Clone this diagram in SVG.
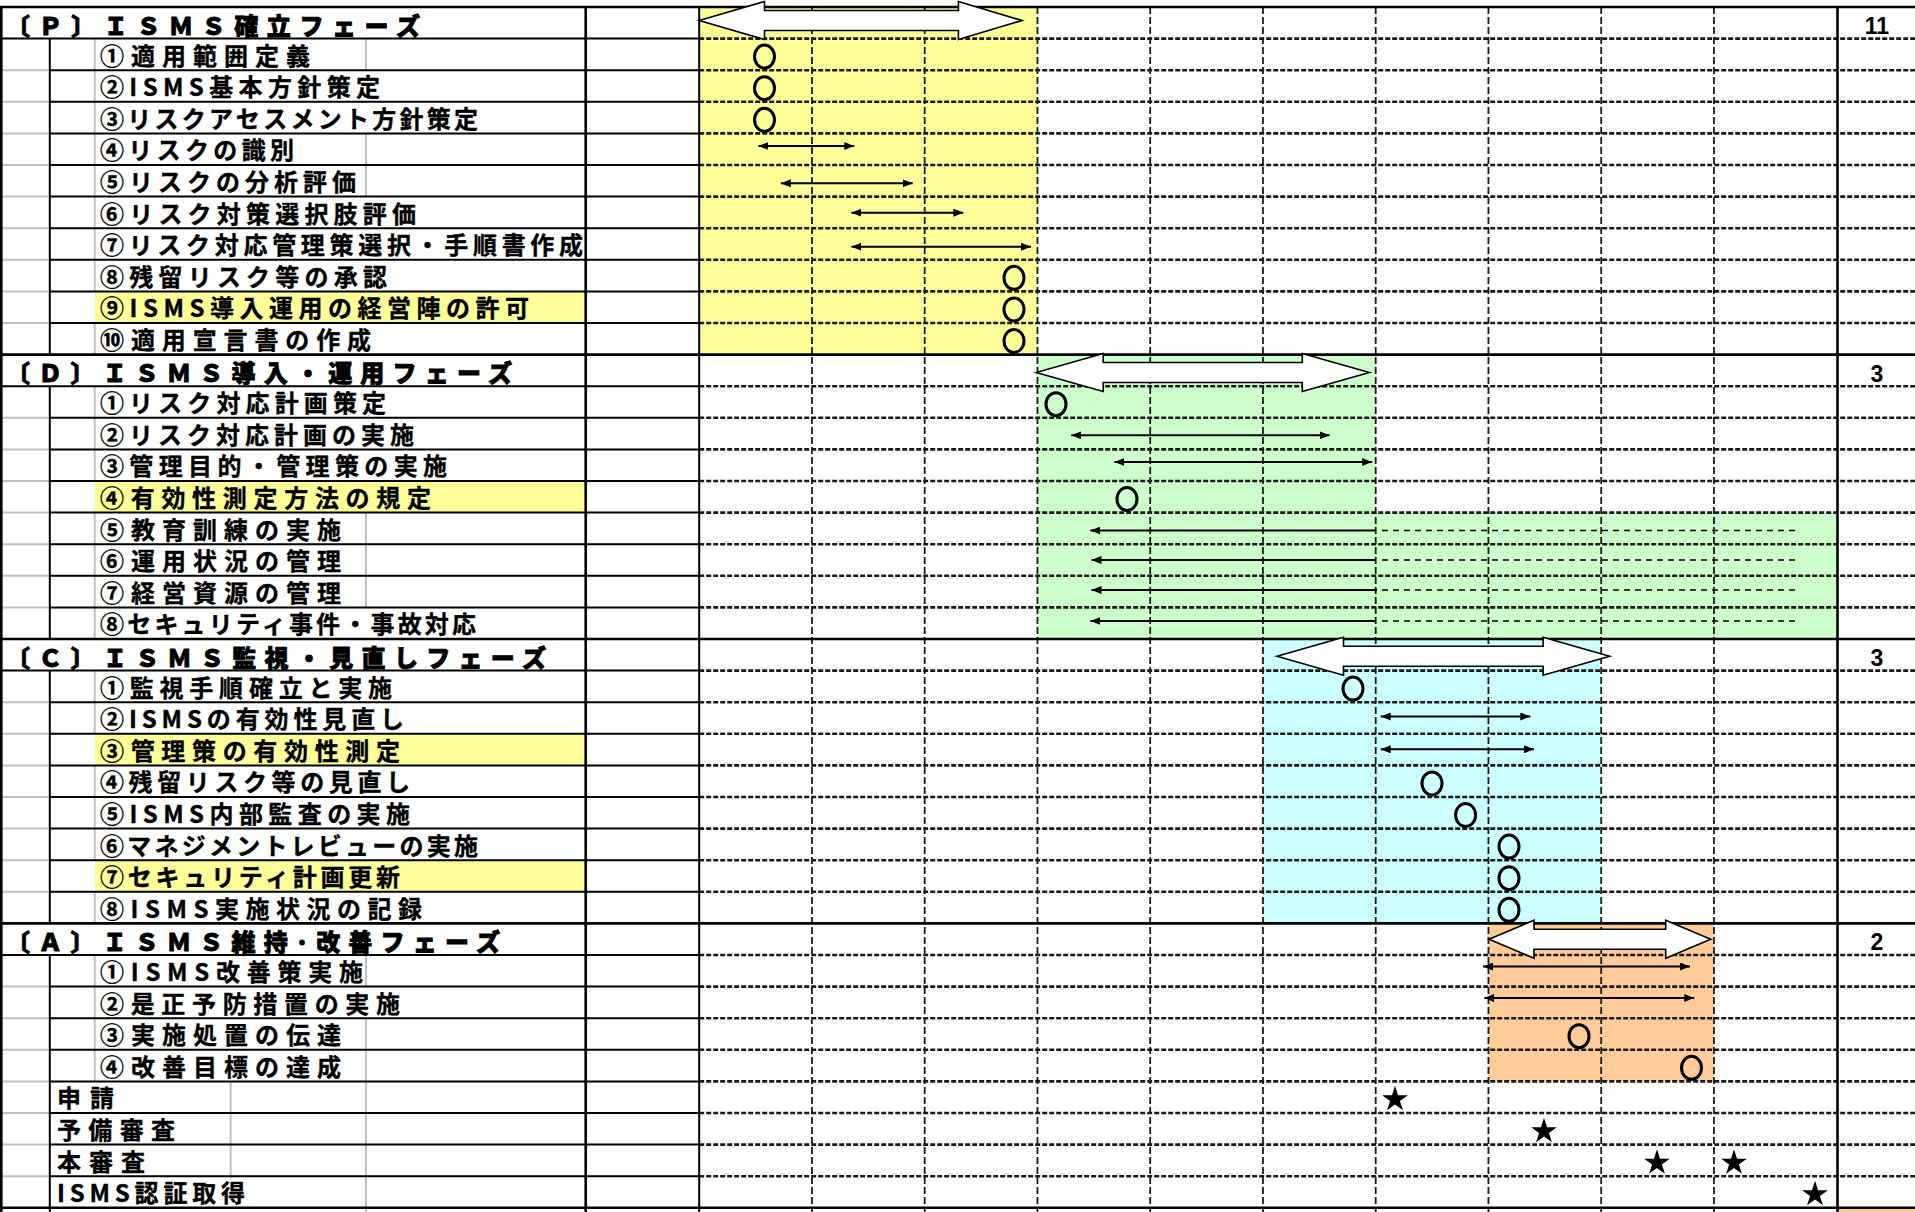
<svg xmlns="http://www.w3.org/2000/svg" width="1915" height="1212" viewBox="0 0 1915 1212">
<style>
.it{font-family:"Noto Sans CJK JP","Noto Sans",sans-serif;font-size:24px;font-weight:700;fill:#000;stroke:#000;stroke-width:0.35}
.hd{font-family:"Noto Sans CJK JP","Noto Sans",sans-serif;font-size:24px;font-weight:900;fill:#000;stroke:#000;stroke-width:0.8}
.num{font-family:"Liberation Sans",Arial,sans-serif;font-size:23px;font-weight:700;fill:#000;text-anchor:middle}
.sol{stroke:#000;stroke-width:2;fill:none}
.thk{stroke:#000;stroke-width:2.6;fill:none}
.gry{stroke:#c0c0c0;stroke-width:2;fill:none}
.dh{stroke:#1a1a1a;stroke-width:2.6;stroke-dasharray:5 2;fill:none}
.dv{stroke:#1a1a1a;stroke-width:1.8;stroke-dasharray:7 3;fill:none}
.big{fill:#fff;stroke:#000;stroke-width:1.6}
.ov{fill:none;stroke:#000;stroke-width:3}
.arr{stroke:#000;stroke-width:2;marker-start:url(#ah);marker-end:url(#ah)}
.arl{stroke:#000;stroke-width:2;marker-end:url(#ah)}
.dsh{stroke:#000;stroke-width:1.6;stroke-dasharray:6 5}
.st{fill:#000}
</style>
<defs>
<marker id="ah" viewBox="0 0 10 8" refX="10" refY="4" markerWidth="10" markerHeight="8" markerUnits="userSpaceOnUse" orient="auto-start-reverse"><path d="M0,0 L10,4 L0,8 z" fill="#000"/></marker>
<polygon id="star" points="0,-13.5 3.03,-4.17 12.84,-4.17 4.9,1.59 7.94,10.92 0,5.16 -7.94,10.92 -4.9,1.59 -12.84,-4.17 -3.03,-4.17"/>
</defs>
<rect x="0" y="0" width="1915" height="1212" fill="#fff"/>

<g id="backgrounds">
<rect x="699.2" y="7" width="338.25" height="347.6" fill="#ffff99"/>
<rect x="1037.45" y="354.6" width="338.25" height="284.4" fill="#ccffcc"/>
<rect x="1375.7" y="512.6" width="461.8" height="126.4" fill="#ccffcc"/>
<rect x="1262.95" y="639" width="338.25" height="284.4" fill="#ccffff"/>
<rect x="1488.45" y="923.4" width="225.5" height="158" fill="#ffcc99"/>
<rect x="1837.5" y="1208.5" width="78" height="4" fill="#ffcc99"/>
<rect x="94.7" y="291.4" width="491" height="31.6" fill="#ffff99"/>
<rect x="94.7" y="481" width="491" height="31.6" fill="#ffff99"/>
<rect x="94.7" y="733.8" width="491" height="31.6" fill="#ffff99"/>
<rect x="94.7" y="860.2" width="491" height="31.6" fill="#ffff99"/>
</g>

<g id="grid">
<path class="gry" d="M94.7,38.6V291.4 M94.7,323V354.6 M94.7,386.2V481 M94.7,512.6V639 M94.7,670.6V733.8 M94.7,765.4V860.2 M94.7,891.8V923.4 M94.7,955V1081.4 M230.6,1081.4V1176.2 M366,38.6V70.2 M366,133.4V196.6 M366,512.6V607.4 M366,955V986.6 M366,1018.2V1212"/>
<path class="gry" d="M0,70.2H49.8 M0,101.8H49.8 M0,133.4H49.8 M0,165H49.8 M0,196.6H49.8 M0,228.2H49.8 M0,259.8H49.8 M0,291.4H49.8 M0,323H49.8 M0,417.8H49.8 M0,449.4H49.8 M0,481H49.8 M0,512.6H49.8 M0,544.2H49.8 M0,575.8H49.8 M0,607.4H49.8 M0,702.2H49.8 M0,733.8H49.8 M0,765.4H49.8 M0,797H49.8 M0,828.6H49.8 M0,860.2H49.8 M0,891.8H49.8 M0,986.6H49.8 M0,1018.2H49.8 M0,1049.8H49.8 M0,1081.4H49.8 M0,1113H49.8 M0,1144.6H49.8 M0,1176.2H49.8"/>
<path class="sol" d="M0,38.6H699.2 M49.8,70.2H699.2 M49.8,101.8H699.2 M49.8,133.4H699.2 M49.8,165H699.2 M49.8,196.6H699.2 M49.8,228.2H699.2 M49.8,259.8H699.2 M49.8,291.4H699.2 M49.8,323H699.2 M0,386.2H699.2 M49.8,417.8H699.2 M49.8,449.4H699.2 M49.8,481H699.2 M49.8,512.6H699.2 M49.8,544.2H699.2 M49.8,575.8H699.2 M49.8,607.4H699.2 M0,670.6H699.2 M49.8,702.2H699.2 M49.8,733.8H699.2 M49.8,765.4H699.2 M49.8,797H699.2 M49.8,828.6H699.2 M49.8,860.2H699.2 M49.8,891.8H699.2 M0,955H699.2 M49.8,986.6H699.2 M49.8,1018.2H699.2 M49.8,1049.8H699.2 M49.8,1081.4H699.2 M49.8,1113H699.2 M49.8,1144.6H699.2 M49.8,1176.2H699.2"/>
<path class="dh" d="M699.2,38.6H1915 M699.2,70.2H1915 M699.2,101.8H1915 M699.2,133.4H1915 M699.2,165H1915 M699.2,196.6H1915 M699.2,228.2H1915 M699.2,259.8H1915 M699.2,291.4H1915 M699.2,323H1915 M699.2,386.2H1915 M699.2,417.8H1915 M699.2,449.4H1915 M699.2,481H1915 M699.2,512.6H1915 M699.2,544.2H1915 M699.2,575.8H1915 M699.2,607.4H1915 M699.2,670.6H1915 M699.2,702.2H1915 M699.2,733.8H1915 M699.2,765.4H1915 M699.2,797H1915 M699.2,828.6H1915 M699.2,860.2H1915 M699.2,891.8H1915 M699.2,955H1915 M699.2,986.6H1915 M699.2,1018.2H1915 M699.2,1049.8H1915 M699.2,1081.4H1915 M699.2,1113H1915 M699.2,1144.6H1915 M699.2,1176.2H1915"/>
<path class="dv" d="M811.95,7V1212 M924.7,7V1212 M1037.45,7V1212 M1150.2,7V1212 M1262.95,7V1212 M1375.7,7V1212 M1488.45,7V1212 M1601.2,7V1212 M1713.95,7V1212"/>
<path class="sol" d="M49.8,38.6V354.6 M49.8,386.2V639 M49.8,670.6V923.4 M49.8,955V1212 M699.2,7V1212"/>
<path class="thk" d="M0,7H1915 M0,354.6H1915 M0,639H1915 M0,923.4H1915 M0,1207.8H1915 M1.3,7V1212 M585.7,7V1212 M1837.5,7V1212"/>
</g>

<g id="labels">
<g id="phase-p">
<text class="hd" x="6" y="34.5" textLength="414" lengthAdjust="spacing">〔Ｐ〕ＩＳＭＳ確立フェーズ</text>
<text class="it" x="100" y="64.6" textLength="210" lengthAdjust="spacing">①適用範囲定義</text>
<text class="it" x="100" y="96.2" textLength="280" lengthAdjust="spacing">②ISMS基本方針策定</text>
<text class="it" x="100" y="127.8" textLength="378" lengthAdjust="spacing">③リスクアセスメント方針策定</text>
<text class="it" x="100" y="159.4" textLength="194" lengthAdjust="spacing">④リスクの識別</text>
<text class="it" x="100" y="191" textLength="256" lengthAdjust="spacing">⑤リスクの分析評価</text>
<text class="it" x="100" y="222.6" textLength="316" lengthAdjust="spacing">⑥リスク対策選択肢評価</text>
<text class="it" x="100" y="254.2" textLength="483" lengthAdjust="spacing">⑦リスク対応管理策選択・手順書作成</text>
<text class="it" x="100" y="285.8" textLength="287" lengthAdjust="spacing">⑧残留リスク等の承認</text>
<text class="it" x="100" y="317.4" textLength="429" lengthAdjust="spacing">⑨ISMS導入運用の経営陣の許可</text>
<text class="it" x="100" y="349" textLength="271" lengthAdjust="spacing">⑩適用宣言書の作成</text>
</g>
<g id="phase-d">
<text class="hd" x="6" y="382.1" textLength="506" lengthAdjust="spacing">〔Ｄ〕ＩＳＭＳ導入・運用フェーズ</text>
<text class="it" x="100" y="412.2" textLength="286" lengthAdjust="spacing">①リスク対応計画策定</text>
<text class="it" x="100" y="443.8" textLength="314" lengthAdjust="spacing">②リスク対応計画の実施</text>
<text class="it" x="100" y="475.4" textLength="347" lengthAdjust="spacing">③管理目的・管理策の実施</text>
<text class="it" x="100" y="507" textLength="331" lengthAdjust="spacing">④有効性測定方法の規定</text>
<text class="it" x="100" y="538.6" textLength="241" lengthAdjust="spacing">⑤教育訓練の実施</text>
<text class="it" x="100" y="570.2" textLength="241" lengthAdjust="spacing">⑥運用状況の管理</text>
<text class="it" x="100" y="601.8" textLength="241" lengthAdjust="spacing">⑦経営資源の管理</text>
<text class="it" x="100" y="633.4" textLength="376" lengthAdjust="spacing">⑧セキュリティ事件・事故対応</text>
</g>
<g id="phase-c">
<text class="hd" x="6" y="666.5" textLength="540" lengthAdjust="spacing">〔Ｃ〕ＩＳＭＳ監視・見直しフェーズ</text>
<text class="it" x="100" y="696.6" textLength="292" lengthAdjust="spacing">①監視手順確立と実施</text>
<text class="it" x="100" y="728.2" textLength="304" lengthAdjust="spacing">②ISMSの有効性見直し</text>
<text class="it" x="100" y="759.8" textLength="300" lengthAdjust="spacing">③管理策の有効性測定</text>
<text class="it" x="100" y="791.4" textLength="310" lengthAdjust="spacing">④残留リスク等の見直し</text>
<text class="it" x="100" y="823" textLength="310" lengthAdjust="spacing">⑤ISMS内部監査の実施</text>
<text class="it" x="100" y="854.6" textLength="378" lengthAdjust="spacing">⑥マネジメントレビューの実施</text>
<text class="it" x="100" y="886.2" textLength="300" lengthAdjust="spacing">⑦セキュリティ計画更新</text>
<text class="it" x="100" y="917.8" textLength="322" lengthAdjust="spacing">⑧ISMS実施状況の記録</text>
</g>
<g id="phase-a">
<text class="hd" x="6" y="950.9" textLength="494" lengthAdjust="spacing">〔Ａ〕ＩＳＭＳ維持･改善フェーズ</text>
<text class="it" x="100" y="981" textLength="263" lengthAdjust="spacing">①ISMS改善策実施</text>
<text class="it" x="100" y="1012.6" textLength="300" lengthAdjust="spacing">②是正予防措置の実施</text>
<text class="it" x="100" y="1044.2" textLength="241" lengthAdjust="spacing">③実施処置の伝達</text>
<text class="it" x="100" y="1075.8" textLength="241" lengthAdjust="spacing">④改善目標の達成</text>
</g>
<g id="certification">
<text class="it" x="57" y="1107.4" textLength="57" lengthAdjust="spacing">申請</text>
<text class="it" x="57" y="1139" textLength="118" lengthAdjust="spacing">予備審査</text>
<text class="it" x="57" y="1170.6" textLength="88" lengthAdjust="spacing">本審査</text>
<text class="it" x="57" y="1202.2" textLength="188" lengthAdjust="spacing">ISMS認証取得</text>
</g>
<g id="counts">
<text class="num" x="1877" y="34">11</text>
<text class="num" x="1877" y="381.6">3</text>
<text class="num" x="1877" y="666">3</text>
<text class="num" x="1877" y="950.4">2</text>
</g>
</g>

<g id="connectors">
<g id="phase-arrows">
<polygon class="big" points="699.2,20.5 764.5,1.5 764.5,10.5 958.4,10.5 958.4,1.5 1022,20.5 958.4,39.5 958.4,30.5 764.5,30.5 764.5,39.5"/>
<polygon class="big" points="1036.2,372.5 1103.2,353.5 1103.2,362.5 1302.3,362.5 1302.3,353.5 1369.3,372.5 1302.3,391.5 1302.3,382.5 1103.2,382.5 1103.2,391.5"/>
<polygon class="big" points="1277,656.3 1343.5,637.3 1343.5,646.3 1543.1,646.3 1543.1,637.3 1609.6,656.3 1543.1,675.3 1543.1,666.3 1343.5,666.3 1343.5,675.3"/>
<polygon class="big" points="1489,939.2 1534,920.2 1534,929.2 1665.7,929.2 1665.7,920.2 1710.7,939.2 1665.7,958.2 1665.7,949.2 1534,949.2 1534,958.2"/>
</g>
<g id="task-arrows">
<line class="arr" x1="758.4" y1="146" x2="854.3" y2="146"/>
<line class="arr" x1="780.8" y1="183.3" x2="912.7" y2="183.3"/>
<line class="arr" x1="851.4" y1="212.7" x2="963.3" y2="212.7"/>
<line class="arr" x1="851.4" y1="246.7" x2="1031" y2="246.7"/>
<line class="arr" x1="1071.2" y1="435.3" x2="1329.6" y2="435.3"/>
<line class="arr" x1="1114.4" y1="462" x2="1372.2" y2="462"/>
<line class="arl" x1="1375.7" y1="530.5" x2="1090.4" y2="530.5"/>
<line class="arl" x1="1375.7" y1="560" x2="1091.5" y2="560"/>
<line class="arl" x1="1377" y1="590" x2="1091.5" y2="590"/>
<line class="arl" x1="1375.7" y1="621" x2="1090.4" y2="621"/>
<line class="dsh" x1="1382" y1="530.5" x2="1797" y2="530.5"/>
<line class="dsh" x1="1382" y1="560" x2="1797" y2="560"/>
<line class="dsh" x1="1382" y1="590" x2="1797" y2="590"/>
<line class="dsh" x1="1382" y1="621" x2="1797" y2="621"/>
<line class="arr" x1="1380.7" y1="716.5" x2="1530.3" y2="716.5"/>
<line class="arr" x1="1380.7" y1="749.3" x2="1534" y2="749.3"/>
<line class="arr" x1="1483" y1="966.5" x2="1690" y2="966.5"/>
<line class="arr" x1="1484.3" y1="998" x2="1694.3" y2="998"/>
</g>
</g>

<g id="milestones">
<ellipse class="ov" cx="764.5" cy="56.6" rx="10" ry="11.5"/>
<ellipse class="ov" cx="764.5" cy="88.2" rx="10" ry="11.5"/>
<ellipse class="ov" cx="764.5" cy="119.8" rx="10" ry="11.5"/>
<ellipse class="ov" cx="1014" cy="277.8" rx="10" ry="11.5"/>
<ellipse class="ov" cx="1014" cy="309.4" rx="10" ry="11.5"/>
<ellipse class="ov" cx="1014" cy="341" rx="10" ry="11.5"/>
<ellipse class="ov" cx="1056" cy="404.2" rx="10" ry="11.5"/>
<ellipse class="ov" cx="1127" cy="499" rx="10" ry="11.5"/>
<ellipse class="ov" cx="1353" cy="688.6" rx="10" ry="11.5"/>
<ellipse class="ov" cx="1432" cy="783.4" rx="10" ry="11.5"/>
<ellipse class="ov" cx="1465.6" cy="815" rx="10" ry="11.5"/>
<ellipse class="ov" cx="1509" cy="846.6" rx="10" ry="11.5"/>
<ellipse class="ov" cx="1509" cy="878.2" rx="10" ry="11.5"/>
<ellipse class="ov" cx="1509" cy="909.8" rx="10" ry="11.5"/>
<ellipse class="ov" cx="1579" cy="1036.2" rx="10" ry="11.5"/>
<ellipse class="ov" cx="1691.5" cy="1067.8" rx="10" ry="11.5"/>
<use href="#star" class="st" x="1395" y="1099.3"/>
<use href="#star" class="st" x="1544" y="1131.3"/>
<use href="#star" class="st" x="1657" y="1162.8"/>
<use href="#star" class="st" x="1734" y="1162.8"/>
<use href="#star" class="st" x="1815" y="1194.3"/>
</g>
</svg>
